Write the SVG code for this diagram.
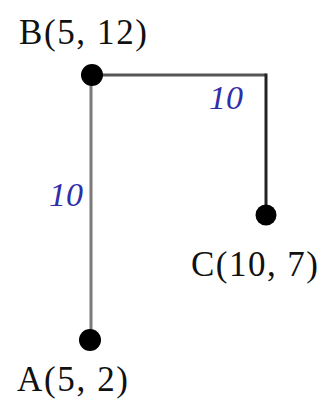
<svg xmlns="http://www.w3.org/2000/svg" width="322" height="400" viewBox="0 0 322 400">
<style>
.lbl{font-family:"Liberation Serif","Times New Roman",serif;font-size:35px;fill:#111}
.w{font-family:"Liberation Serif","Times New Roman",serif;font-size:34px;font-style:italic;fill:#2e2ea8;text-anchor:middle}
.dot{fill:#000}
</style>
<rect width="322" height="400" fill="#fff"/>
<g id="connectors">
<line x1="91" y1="75" x2="91" y2="340" stroke="#7a7a7a" stroke-width="3"/>
<line x1="92" y1="75" x2="266" y2="75" stroke="#555" stroke-width="3"/>
<line x1="266" y1="73.5" x2="266" y2="215" stroke="#222" stroke-width="3"/>
<text class="w" x="226" y="109">10</text>
<text class="w" x="66" y="206">10</text>
</g>
<g id="B">
<circle class="dot" cx="92" cy="75" r="11"/>
<text class="lbl" x="19" y="44" textLength="128" lengthAdjust="spacing">B(5, 12)</text>
</g>
<g id="C">
<circle class="dot" cx="266" cy="215" r="10.5"/>
<text class="lbl" x="191" y="276" textLength="127" lengthAdjust="spacing">C(10, 7)</text>
</g>
<g id="A">
<circle class="dot" cx="90" cy="340" r="11"/>
<text class="lbl" x="17" y="391" textLength="111" lengthAdjust="spacing">A(5, 2)</text>
</g>
</svg>
